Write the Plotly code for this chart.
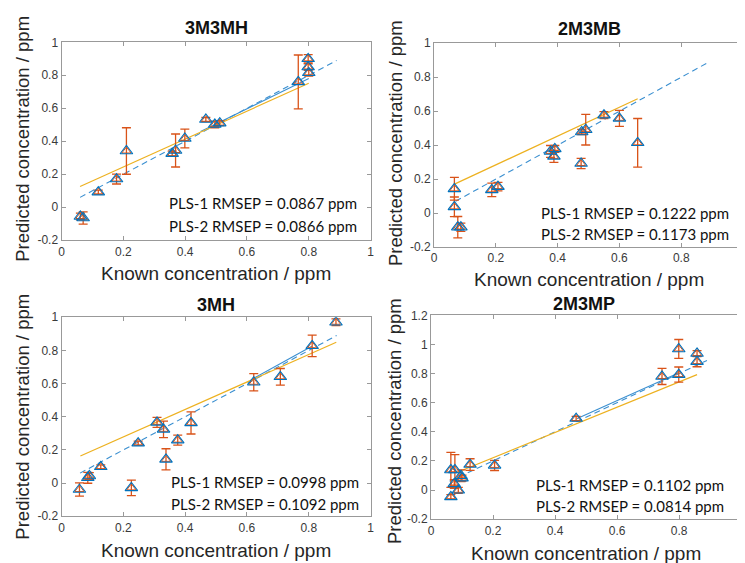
import plotly.graph_objects as go

W, H = 745, 563

titles = ["3M3MH", "2M3MB", "3MH", "2M3MP"]

# ---- data (known, predicted, error) ----
p1_x = [0.061, 0.070, 0.119, 0.178, 0.21, 0.358, 0.369, 0.399, 0.467, 0.496, 0.512, 0.766, 0.798, 0.798, 0.80]
p1_y = [-0.056, -0.065, 0.092, 0.171, 0.341, 0.325, 0.344, 0.417, 0.532, 0.502, 0.51, 0.76, 0.90, 0.85, 0.815]
p1_e = [0.02, 0.037, 0.012, 0.03, 0.141, 0.015, 0.10, 0.057, 0.012, 0.02, 0.015, 0.163, 0.025, 0.02, 0.02]

p2_x = [0.066, 0.066, 0.077, 0.087, 0.187, 0.207, 0.377, 0.391, 0.388, 0.476, 0.478, 0.491, 0.55, 0.60, 0.659]
p2_y = [0.143, 0.037, -0.083, -0.083, 0.137, 0.156, 0.363, 0.378, 0.334, 0.292, 0.478, 0.491, 0.577, 0.558, 0.414]
p2_e = [0.067, 0.058, 0.063, 0.024, 0.04, 0.025, 0.035, 0.02, 0.035, 0.03, 0.015, 0.09, 0.02, 0.047, 0.143]

p3_x = [0.058, 0.085, 0.09, 0.127, 0.226, 0.248, 0.309, 0.33, 0.338, 0.376, 0.419, 0.622, 0.708, 0.811, 0.888]
p3_y = [-0.039, 0.032, 0.043, 0.098, -0.029, 0.241, 0.366, 0.324, 0.143, 0.259, 0.363, 0.608, 0.641, 0.828, 0.97]
p3_e = [0.04, 0.033, 0.02, 0.012, 0.047, 0.012, 0.03, 0.05, 0.064, 0.03, 0.067, 0.052, 0.05, 0.065, 0.02]

p4_x = [0.064, 0.064, 0.077, 0.075, 0.088, 0.097, 0.10, 0.126, 0.205, 0.468, 0.745, 0.799, 0.799, 0.858, 0.858]
p4_y = [-0.047, 0.138, 0.138, 0.042, -0.002, 0.098, 0.082, 0.175, 0.169, 0.491, 0.78, 0.969, 0.793, 0.938, 0.882]
p4_e = [0.015, 0.12, 0.105, 0.03, 0.02, 0.04, 0.02, 0.04, 0.035, 0.015, 0.055, 0.065, 0.052, 0.02, 0.035]

# ---- fitted lines (endpoints) ----
ideal_x = [[0.06, 0.89], [0.07, 0.89], [0.06, 0.89], [0.06, 0.89]]
fit1_x = [[0.45, 0.80], None, [0.62, 0.81], [0.47, 0.80]]
fit1_y = [[0.46, 0.78], None, [0.63, 0.825], [0.49, 0.805]]
fit2_x = [[0.06, 0.80], [0.068, 0.659], [0.061, 0.889], [0.083, 0.858]]
fit2_y = [[0.126, 0.752], [0.172, 0.673], [0.163, 0.849], [0.12, 0.793]]

rmsep1 = ["0.0867", "0.1222", "0.0998", "0.1102"]
rmsep2 = ["0.0866", "0.1173", "0.1092", "0.0814"]

y_tickvals = [[-0.2, 0, 0.2, 0.4, 0.6, 0.8, 1]] * 3 + [[-0.2, 0, 0.2, 0.4, 0.6, 0.8, 1, 1.2]]
y_ranges = [[-0.2, 1], [-0.2, 1], [-0.2, 1], [-0.2, 1.2]]
x_tickvals = [0, 0.2, 0.4, 0.6, 0.8, 1]

datasets = [(p1_x, p1_y, p1_e), (p2_x, p2_y, p2_e), (p3_x, p3_y, p3_e), (p4_x, p4_y, p4_e)]

# ---- layout geometry (pixels) ----
boxes = [(51, 363, 28, 231), (427, 739, 29, 238), (51, 363, 310, 514), (424, 737, 308, 517)]
title_pos = [(207, 13), (584, 14), (207, 297), (578, 296)]
xtitle_pos = [(207, 265), (583, 271), (207, 549), (580, 552)]
ytitle_pos = [(12, 127), (388, 131), (12, 412), (387, 416)]
ann_pos = [(351, 193, 216), (727, 203, 225), (353, 479, 501), (722, 482, 504)]

BLUE = "#0072BD"
ORANGE = "#D95319"
YELLOW = "#EDB120"

def px(x):
    return x / W

def py(y):
    return 1 - y / H

fig = go.Figure()
annotations = []
layout = {}

for i in range(4):
    n = "" if i == 0 else str(i + 1)
    xa, ya = "x" + n, "y" + n
    X, Y, E = datasets[i]
    # ideal y = x
    fig.add_trace(go.Scatter(x=ideal_x[i], y=ideal_x[i], mode="lines", xaxis=xa, yaxis=ya,
                             line=dict(color="#3a8fd0", width=1.1, dash="6px,4px"), showlegend=False))
    if fit1_x[i] is not None:
        fig.add_trace(go.Scatter(x=fit1_x[i], y=fit1_y[i], mode="lines", xaxis=xa, yaxis=ya,
                                 line=dict(color="#3a8fd0", width=1.1), showlegend=False))
    fig.add_trace(go.Scatter(x=fit2_x[i], y=fit2_y[i], mode="lines", xaxis=xa, yaxis=ya,
                             line=dict(color=YELLOW, width=1.2), showlegend=False))
    fig.add_trace(go.Scatter(x=X, y=Y, mode="markers", xaxis=xa, yaxis=ya,
                             error_y=dict(type="data", array=E, color=ORANGE, thickness=1.3, width=4.5),
                             marker=dict(symbol="triangle-up-open", size=8, color=ORANGE,
                                         line=dict(width=1, color=ORANGE)),
                             showlegend=False))
    fig.add_trace(go.Scatter(x=X, y=Y, mode="markers", xaxis=xa, yaxis=ya,
                             marker=dict(symbol="triangle-up-open", size=11, color=BLUE,
                                         line=dict(width=1.1, color="#2a86cc")),
                             showlegend=False))

    x0, x1, y0, y1 = boxes[i]
    common = dict(showline=True, linecolor="#999999", linewidth=1, mirror="ticks",
                  ticks="inside", ticklen=4, tickcolor="#999999", showgrid=False, zeroline=False,
                  tickfont=dict(family="Liberation Sans, Arial", size=12, color="#3a3a3a"))
    layout["xaxis" + n] = dict(domain=[px(x0), px(x1)], range=[0, 1], anchor=ya,
                               tickvals=x_tickvals, ticktext=[("%g" % v) for v in x_tickvals], **common)
    layout["yaxis" + n] = dict(domain=[py(y1), py(y0)], range=y_ranges[i], anchor=xa,
                               tickvals=y_tickvals[i], ticktext=[("%g" % v) for v in y_tickvals[i]], **common)

    tx, ty = title_pos[i]
    annotations.append(dict(text="<b>%s</b>" % titles[i], x=px(tx), y=py(ty), xref="paper", yref="paper",
                            showarrow=False, xanchor="center", yanchor="middle",
                            font=dict(family="Liberation Sans, Arial", size=18, color="#111111")))
    tx, ty = xtitle_pos[i]
    annotations.append(dict(text="Known concentration / ppm", x=px(tx), y=py(ty), xref="paper", yref="paper",
                            showarrow=False, xanchor="center", yanchor="middle",
                            font=dict(family="Liberation Sans, Arial", size=19, color="#262626")))
    tx, ty = ytitle_pos[i]
    annotations.append(dict(text="Predicted concentration / ppm", x=px(tx), y=py(ty), xref="paper", yref="paper",
                            showarrow=False, xanchor="center", yanchor="middle", textangle=-90,
                            font=dict(family="Liberation Sans, Arial", size=18.5, color="#262626")))
    ax_, a1, a2 = ann_pos[i]
    annotations.append(dict(text="PLS-1 RMSEP = %s ppm" % rmsep1[i], x=px(ax_), y=py(a1), xref="paper", yref="paper",
                            showarrow=False, xanchor="right", yanchor="middle",
                            font=dict(family="Lato", size=15, color="#111111")))
    annotations.append(dict(text="PLS-2 RMSEP = %s ppm" % rmsep2[i], x=px(ax_), y=py(a2), xref="paper", yref="paper",
                            showarrow=False, xanchor="right", yanchor="middle",
                            font=dict(family="Lato", size=15, color="#111111")))

fig.update_layout(width=W, height=H, margin=dict(l=0, r=0, t=0, b=0),
                  paper_bgcolor="white", plot_bgcolor="white", showlegend=False,
                  annotations=annotations, **layout)

fig.write_html("out.html")
